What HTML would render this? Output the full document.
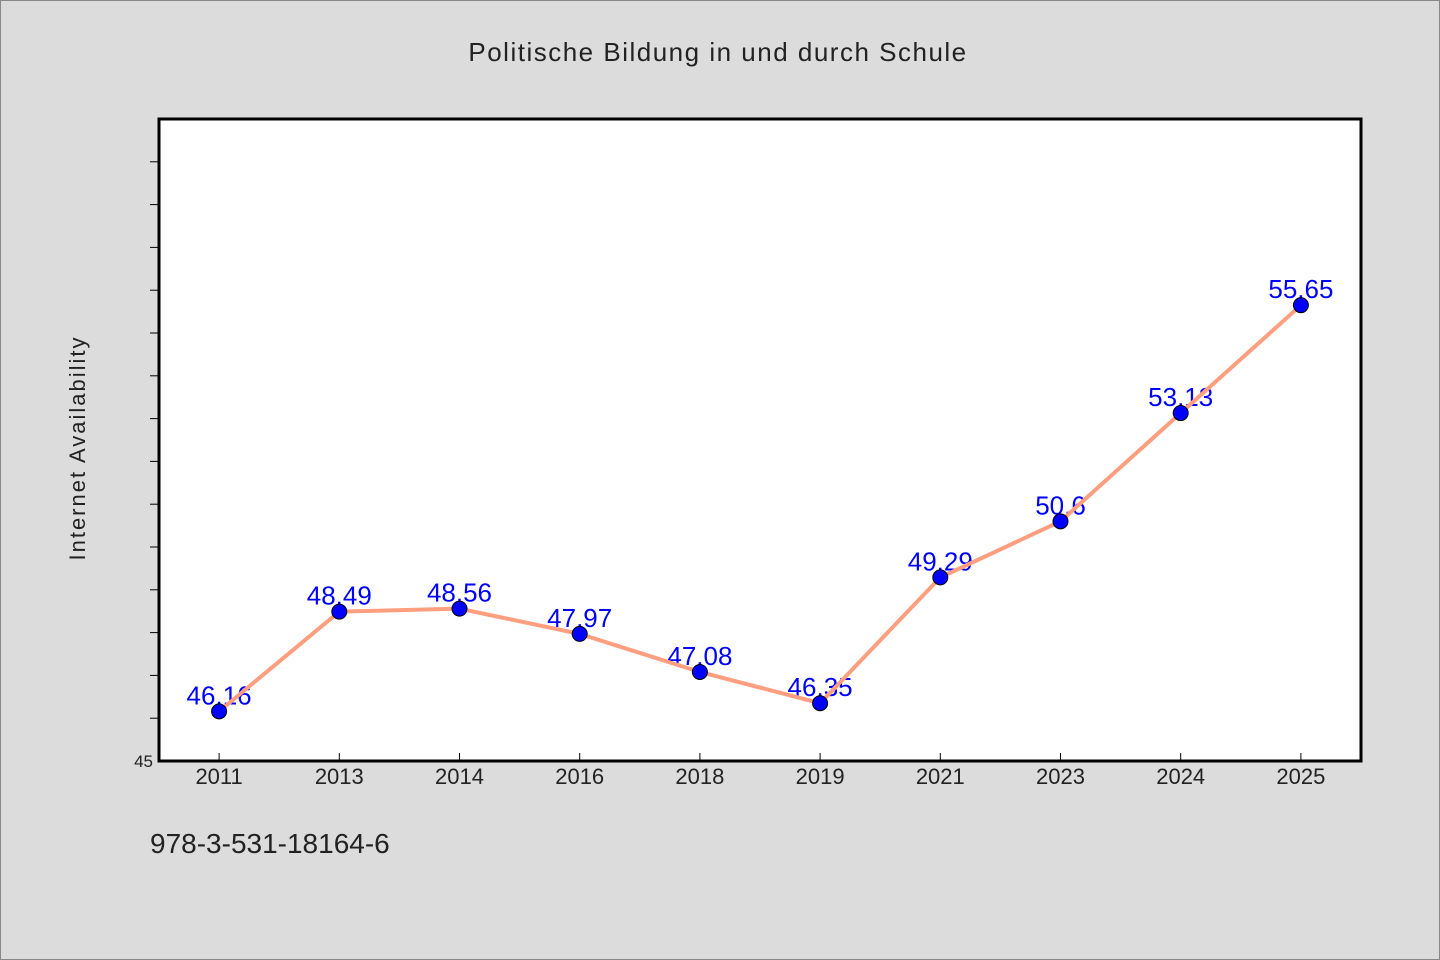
<!DOCTYPE html>
<html><head><meta charset="utf-8"><style>
body{margin:0;background:#dcdcdc;}
svg{display:block;font-family:"WenQuanYi Zen Hei","Liberation Sans",sans-serif;}
</style></head><body>
<svg id="chart" width="1440" height="960">
<rect x="0.5" y="0.5" width="1439" height="959" fill="#dcdcdc" stroke="#888"/>
<text x="718" y="61" text-anchor="middle" font-size="26" fill="#222" letter-spacing="1.5">Politische Bildung in und durch Schule</text>
<rect x="159" y="119" width="1202" height="642" fill="#fff" stroke="#000" stroke-width="3"/>
<text transform="translate(85,448) rotate(-90)" text-anchor="middle" font-size="22" fill="#222" letter-spacing="2">Internet Availability</text>
<text x="150" y="853" font-size="28" fill="#222">978-3-531-18164-6</text>
<g id="g"></g>
</svg>
<script>
const categories=["2011","2013","2014","2016","2018","2019","2021","2023","2024","2025"];
const values=[46.16,48.49,48.56,47.97,47.08,46.35,49.29,50.6,53.13,55.65];
const labels=["46.16","48.49","48.56","47.97","47.08","46.35","49.29","50.6","53.13","55.65"];
const yMin=45,yMax=60;
const L=159,R=1361,T=119,B=761;
const NS="http://www.w3.org/2000/svg";
const g=document.getElementById('g');
const bw=(R-L)/categories.length;
function x(i){return L+bw*(i+0.5);}
function y(v){return B-(v-yMin)/(yMax-yMin)*(B-T);}
function mk(t,a){const e=document.createElementNS(NS,t);for(const k in a)e.setAttribute(k,a[k]);g.appendChild(e);return e;}
for(let v=yMin+1;v<yMax;v++){
 const t=mk('line',{x1:L-9,x2:L,y1:y(v),y2:y(v),stroke:'#000','stroke-width':1});
 
 
}
const y0=mk('text',{x:L-6,y:B+6,'text-anchor':'end','font-size':17,fill:'#222'});
y0.textContent=String(yMin);


categories.forEach((c,i)=>{
 const t=mk('line',{x1:x(i),x2:x(i),y1:B-8,y2:B,stroke:'#000','stroke-width':1});
 
 
 const l=mk('text',{x:x(i),y:B+23,'text-anchor':'middle','font-size':22,fill:'#222'});
 l.textContent=c;
 
 
});
values.forEach((v,i)=>{
 const l=mk('text',{x:x(i),y:y(v)-7,'text-anchor':'middle','font-size':26,fill:'#0000ff'});
 l.textContent=labels[i];
 
 
});
const line=mk('polyline',{points:values.map((v,i)=>x(i)+','+y(v)).join(' '),fill:'none',stroke:'#ff9f7f','stroke-width':4});


values.forEach((v,i)=>{
 const c=mk('circle',{cx:x(i),cy:y(v),r:7.5,fill:'#0000ff',stroke:'#000','stroke-width':1});
 
 
});
</script>
</body></html>
